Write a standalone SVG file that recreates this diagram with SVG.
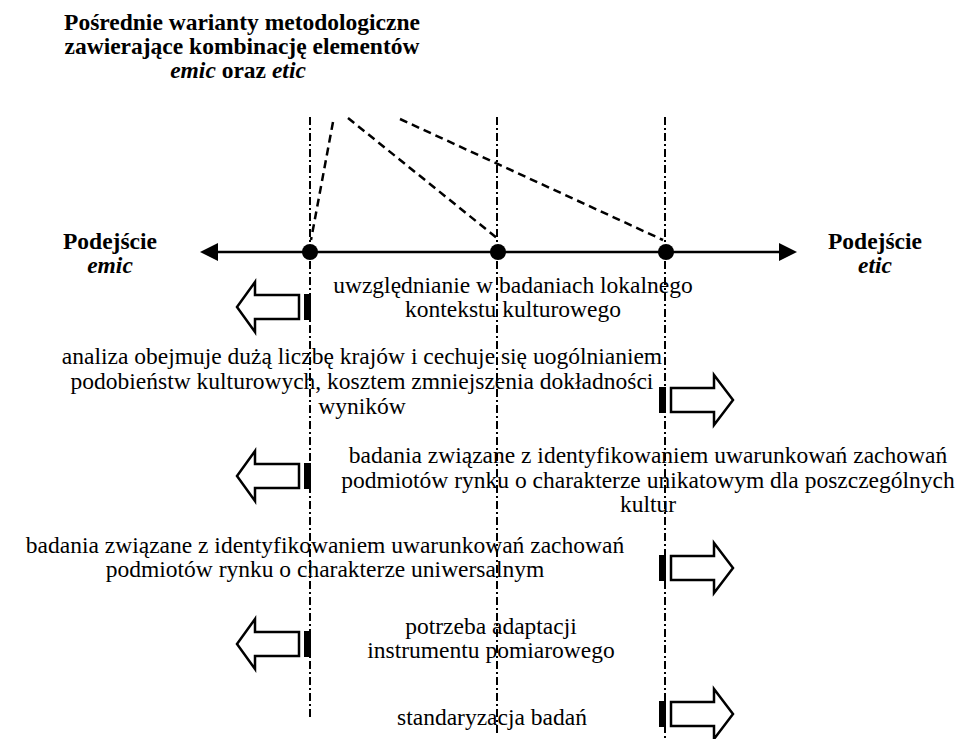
<svg xmlns="http://www.w3.org/2000/svg" width="962" height="739" viewBox="0 0 962 739">
<style>
.t{font-family:"Liberation Serif","Times New Roman",serif;font-size:23.5px;fill:#000;text-anchor:middle}
.b{font-weight:bold}
.i{font-style:italic}
.vl{stroke:#000;stroke-width:2;stroke-dasharray:8 3 2 3;fill:none}
.dl{stroke:#000;stroke-width:2.5;stroke-dasharray:8 5;fill:none}
.ar{fill:#fff;stroke:#000;stroke-width:2.5;stroke-linejoin:miter}
</style>
<defs>
<g id="la">
<polygon class="ar" points="299,-12 255,-12 255,-25 237,0 255,25 255,12 299,12"/>
<rect x="304" y="-13" width="7" height="26" fill="#000"/>
</g>
<g id="ra">
<polygon class="ar" points="671,-12 714,-12 714,-25 733,0 714,25 714,12 671,12"/>
<rect x="659" y="-13" width="7" height="26" fill="#000"/>
</g>
</defs>
<rect width="962" height="739" fill="#fff"/>
<g id="title">
<text class="t b" x="242" y="30">Pośrednie warianty metodologiczne</text>
<text class="t b" x="242" y="54">zawierające kombinację elementów</text>
<text class="t b" x="238" y="78"><tspan class="i">emic</tspan> oraz <tspan class="i">etic</tspan></text>
</g>
<g id="connectors">
<line class="vl" x1="310" y1="117" x2="310" y2="718"/>
<line class="vl" x1="497" y1="117" x2="497" y2="733"/>
<line class="vl" x1="665" y1="117" x2="665" y2="738"/>
<line class="dl" x1="333" y1="122" x2="311" y2="240"/>
<line class="dl" x1="348" y1="118" x2="497" y2="238"/>
<line class="dl" x1="400" y1="119" x2="663" y2="240"/>
</g>
<g id="axis">
<line x1="212" y1="252" x2="785" y2="252" stroke="#000" stroke-width="2.5"/>
<polygon points="200,252 218,243 218,261" fill="#000"/>
<polygon points="797,252 779,243 779,261" fill="#000"/>
<circle cx="310" cy="252" r="8" fill="#000"/>
<circle cx="498" cy="252" r="8" fill="#000"/>
<circle cx="666" cy="252" r="8" fill="#000"/>
</g>
<g id="emic">
<text class="t b" x="110" y="249">Podejście</text>
<text class="t b i" x="110" y="273">emic</text>
</g>
<g id="etic">
<text class="t b" x="875" y="249">Podejście</text>
<text class="t b i" x="875" y="273">etic</text>
</g>
<g id="row1">
<use href="#la" y="307"/>
<text class="t" x="513" y="293">uwzględnianie w badaniach lokalnego</text>
<text class="t" x="513" y="317">kontekstu kulturowego</text>
</g>
<g id="row2">
<use href="#ra" y="400"/>
<text class="t" x="362" y="364">analiza obejmuje dużą liczbę krajów i cechuje się uogólnianiem</text>
<text class="t" x="362" y="389">podobieństw kulturowych, kosztem zmniejszenia dokładności</text>
<text class="t" x="362" y="414">wyników</text>
</g>
<g id="row3">
<use href="#la" y="476"/>
<text class="t" x="648" y="463">badania związane z identyfikowaniem uwarunkowań zachowań</text>
<text class="t" x="648" y="488">podmiotów rynku o charakterze unikatowym dla poszczególnych</text>
<text class="t" x="648" y="512">kultur</text>
</g>
<g id="row4">
<use href="#ra" y="568"/>
<text class="t" x="325" y="553">badania związane z identyfikowaniem uwarunkowań zachowań</text>
<text class="t" x="325" y="577">podmiotów rynku o charakterze uniwersalnym</text>
</g>
<g id="row5">
<use href="#la" y="644"/>
<text class="t" x="491" y="634">potrzeba adaptacji</text>
<text class="t" x="491" y="658">instrumentu pomiarowego</text>
</g>
<g id="row6">
<use href="#ra" y="714"/>
<text class="t" x="492" y="725">standaryzacja badań</text>
</g>
</svg>
